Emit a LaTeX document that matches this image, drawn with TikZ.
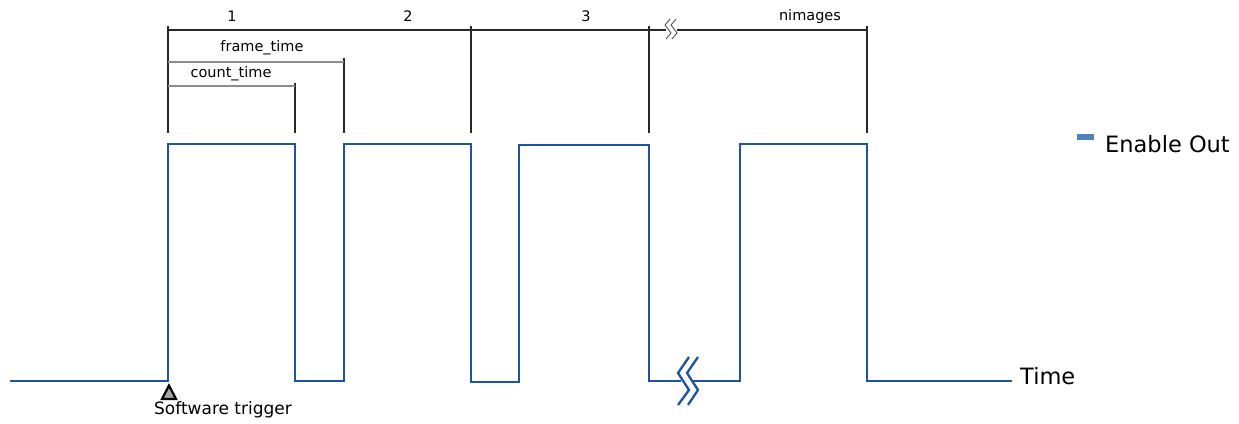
\documentclass[tikz,border=0pt]{standalone}
\usepackage{fontspec}
\setmainfont{DejaVu Sans}
\definecolor{sigblue}{RGB}{28,84,160}
\definecolor{legblue}{RGB}{79,129,189}
\definecolor{dimdark}{RGB}{40,40,40}
\definecolor{dimgray}{RGB}{140,140,140}
\begin{document}
\begin{tikzpicture}[x=1pt,y=-1pt,
  signal/.style={draw=sigblue,line width=2.7pt,line join=miter},
  tick/.style={draw=dimdark,line width=1.6pt},
  spanline/.style={draw=dimdark,line width=1.2pt},
  subspan/.style={draw=dimgray,line width=1.5pt},
  breakmark/.style={draw=dimdark!80,line width=0.9pt},
  lbl/.style={inner sep=0pt,font=\fontsize{14.5}{17}\selectfont},
  biglbl/.style={inner sep=0pt,anchor=west,font=\fontsize{22.5}{26}\selectfont}]
\useasboundingbox (0,0) rectangle (1239,423);

% ---- waveform corner points
\coordinate (s0) at (10,381);
\coordinate (r1) at (168,381);
\coordinate (h1) at (168,144);
\coordinate (h1e) at (295,144);
\coordinate (f1) at (295,381);
\coordinate (r2) at (344,381);
\coordinate (h2) at (344,144);
\coordinate (h2e) at (471,144);
\coordinate (f2) at (471,382);
\coordinate (r3) at (519,382);
\coordinate (h3) at (519,145);
\coordinate (h3e) at (649,145);
\coordinate (f3) at (649,381);
\coordinate (b1) at (681,381);
\coordinate (b2) at (693,381);
\coordinate (r4) at (740,381);
\coordinate (h4) at (740,144);
\coordinate (h4e) at (867,144);
\coordinate (f4) at (867,381);
\coordinate (tend) at (1012,381);

% ---- waveform
\draw[signal] (s0) -- (r1) -- (h1) -- (h1e) -- (f1) -- (r2) -- (h2) -- (h2e)
  -- (f2) -- (r3) -- (h3) -- (h3e) -- (f3) -- (b1);
\draw[signal] (b2) -- (r4) -- (h4) -- (h4e) -- (f4) -- (tend);
% break symbol on the time axis
\draw[signal,line width=2.3pt]
  (678,405) -- (689,390) -- (678,373) -- (689,357);
\draw[signal,line width=2.3pt]
  (688,405) -- (698,390) -- (687,373) -- (698,357);

% ---- dimension ticks
\draw[tick] (168,26) coordinate (t1) -- (168,133);
\draw[tick] (295,83) coordinate (ct) -- (295,133);
\draw[tick] (344,58) coordinate (ft) -- (344,133);
\draw[tick] (471,26) coordinate (t2) -- (471,133);
\draw[tick] (649,26) coordinate (t3) -- (649,133);
\draw[tick] (867,26) coordinate (tn) -- (867,133);

% image span line with break
\draw[spanline] (168,30) -- (666,30);
\draw[spanline] (677,30) -- (867,30);
\draw[breakmark] (670,19) -- (665,25) -- (671,33) -- (666,39);
\draw[breakmark] (676,19) -- (671,25) -- (677,33) -- (672,39);

% frame and count spans
\draw[subspan] (168,62) -- (344,62);
\draw[subspan] (168,86) -- (295,86);

% ---- labels
\node[lbl] (n1) at (232,16) {1};
\node[lbl] (n2) at (408,16) {2};
\node[lbl] (n3) at (586,16) {3};
\node[lbl] (nim) at (810,16) {nimages};
\node[lbl] (frt) at (262,48) {frame\_time};
\node[lbl] (cnt) at (231,74) {count\_time};

% software trigger marker
\draw[draw=black,fill=black!35,line width=2.2pt,line join=miter]
  (169,385.5) -- (162,399) -- (176,399) -- cycle;
\node[inner sep=0pt,font=\fontsize{17}{20}\selectfont] (trig) at (223,410) {Software trigger};

% axis label
\node[biglbl] (time) at (1020,376) {Time};

% legend
\fill[legblue] (1077,134) rectangle (1094,140);
\node[biglbl] (leg) at (1105,144) {Enable Out};
\end{tikzpicture}
\end{document}
